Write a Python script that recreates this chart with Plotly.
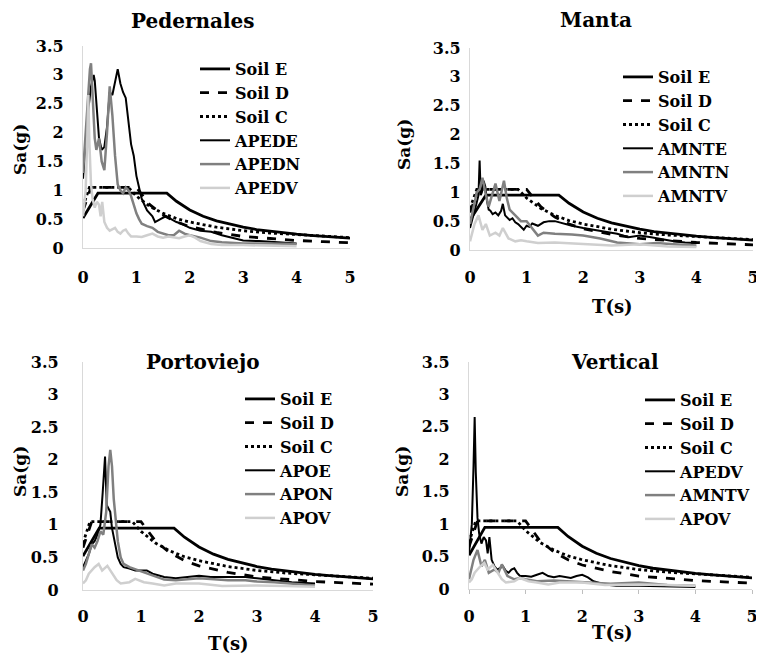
import plotly.graph_objects as go

# ---------------- data ----------------
# Design spectra (NEC)
T_soilE = [0, 0.28, 1.57, 1.75, 2.0, 2.25, 2.5, 2.75, 3.0, 3.25, 3.5, 3.75, 4.0, 4.25, 4.5, 4.75, 5.0]
Sa_soilE = [0.52, 0.95, 0.95, 0.81, 0.66, 0.55, 0.47, 0.41, 0.36, 0.32, 0.29, 0.26, 0.24, 0.22, 0.20, 0.18, 0.17]
T_soilD = [0, 0.15, 1.0, 1.1, 1.25, 1.5, 1.75, 2.0, 2.5, 3.0, 3.5, 4.0, 4.5, 5.0]
Sa_soilD = [0.65, 1.05, 1.05, 0.93, 0.75, 0.57, 0.45, 0.37, 0.27, 0.20, 0.16, 0.13, 0.11, 0.09]
T_soilC = [0, 0.12, 0.85, 1.0, 1.25, 1.5, 1.75, 2.0, 2.5, 3.0, 3.5, 4.0, 4.5, 5.0]
Sa_soilC = [0.72, 1.05, 1.05, 0.9, 0.72, 0.6, 0.51, 0.45, 0.36, 0.30, 0.26, 0.23, 0.20, 0.18]

# Pedernales records
T_APEDE = [0, 0.05, 0.1, 0.15, 0.2, 0.22, 0.27, 0.3, 0.35, 0.4, 0.45, 0.5, 0.55, 0.6, 0.65, 0.7, 0.75, 0.8,
           0.85, 0.9, 0.95, 1.0, 1.05, 1.1, 1.15, 1.2, 1.3, 1.35, 1.45, 1.55, 1.65, 1.75, 1.85, 2.0, 2.2, 2.4,
           2.6, 2.8, 3.0, 3.3, 3.6, 4.0]
Sa_APEDE = [1.2, 1.8, 2.4, 2.8, 3.0, 2.9, 2.2, 1.9, 1.7, 1.75, 2.1, 2.7, 2.65, 2.9, 3.1, 2.85, 2.7, 2.6,
            2.2, 1.8, 1.6, 1.25, 1.05, 0.85, 0.75, 0.65, 0.55, 0.45, 0.5, 0.55, 0.5, 0.45, 0.42, 0.35, 0.3, 0.28,
            0.22, 0.18, 0.13, 0.12, 0.1, 0.08]
T_APEDN = [0, 0.05, 0.1, 0.13, 0.15, 0.18, 0.22, 0.25, 0.3, 0.35, 0.4, 0.45, 0.5, 0.55, 0.6, 0.65, 0.7, 0.75,
           0.8, 0.85, 0.9, 0.95, 1.0, 1.05, 1.1, 1.2, 1.3, 1.4, 1.5, 1.6, 1.7, 1.8, 1.9, 2.0, 2.2, 2.4, 2.6,
           3.0, 3.5, 4.0]
Sa_APEDN = [1.3, 2.0, 2.7, 3.1, 3.2, 2.6, 1.9, 1.7, 1.9, 1.5, 1.35, 2.0, 2.8, 2.3, 1.6, 1.1, 1.0, 0.95,
            1.05, 1.0, 0.9, 0.75, 0.6, 0.5, 0.42, 0.38, 0.35, 0.28, 0.25, 0.22, 0.22, 0.3, 0.25, 0.22, 0.18, 0.12, 0.1,
            0.08, 0.08, 0.07]
T_APEDV = [0, 0.05, 0.08, 0.1, 0.12, 0.15, 0.18, 0.22, 0.26, 0.3, 0.33, 0.36, 0.4, 0.45, 0.5, 0.55, 0.6, 0.65,
           0.7, 0.75, 0.8, 0.85, 0.9, 1.0, 1.1, 1.2, 1.3, 1.4, 1.5, 1.6, 1.7, 1.8, 1.9, 2.0, 2.1, 2.2, 2.4, 2.6,
           3.0, 3.5, 4.0]
Sa_APEDV = [0.55, 1.0, 1.9, 2.65, 1.8, 1.1, 0.85, 0.7, 0.8, 0.75, 0.55, 0.8, 0.45, 0.35, 0.3, 0.32, 0.35, 0.28,
            0.25, 0.3, 0.32, 0.25, 0.2, 0.2, 0.19, 0.22, 0.25, 0.2, 0.18, 0.2, 0.18, 0.17, 0.2, 0.22, 0.18, 0.12, 0.07, 0.05,
            0.05, 0.04, 0.03]

# Manta records
T_AMNTE = [0, 0.05, 0.1, 0.15, 0.17, 0.19, 0.21, 0.24, 0.27, 0.3, 0.33, 0.36, 0.4, 0.45, 0.5, 0.55, 0.58, 0.62,
           0.66, 0.7, 0.75, 0.8, 0.85, 0.9, 0.95, 1.0, 1.05, 1.1, 1.2, 1.3, 1.4, 1.5, 1.6, 1.8, 2.0, 2.2, 2.4, 2.6,
           2.8, 3.0, 3.2, 3.4, 3.6, 3.8, 4.0]
Sa_AMNTE = [0.38, 0.55, 0.75, 0.95, 1.55, 0.95, 1.0, 1.2, 1.1, 0.85, 0.7, 0.68, 0.62, 0.65, 0.6, 0.68, 0.8, 0.6,
            0.55, 0.52, 0.55, 0.48, 0.45, 0.4, 0.35, 0.42, 0.4, 0.46, 0.42, 0.48, 0.5, 0.5, 0.47, 0.42, 0.38, 0.35, 0.32, 0.28,
            0.22, 0.25, 0.22, 0.18, 0.15, 0.13, 0.12]
T_AMNTN = [0, 0.05, 0.12, 0.17, 0.22, 0.27, 0.33, 0.39, 0.45, 0.52, 0.6, 0.65, 0.7, 0.8, 0.9, 1.0, 1.1, 1.2, 1.3,
           1.5, 1.8, 2.0, 2.3, 2.6, 3.0, 3.3, 3.6, 4.0]
Sa_AMNTN = [0.45, 0.7, 1.0, 1.05, 1.25, 1.0, 0.75, 0.95, 1.15, 0.85, 1.2, 0.9, 0.7, 0.6, 0.5, 0.5, 0.38, 0.25, 0.3,
            0.28, 0.27, 0.25, 0.2, 0.13, 0.1, 0.12, 0.1, 0.08]
T_AMNTV = [0, 0.04, 0.08, 0.15, 0.22, 0.28, 0.35, 0.45, 0.52, 0.58, 0.68, 0.8, 0.9, 1.0, 1.2, 1.5, 2.0, 2.5, 3.0,
           3.5, 4.0]
Sa_AMNTV = [0.15, 0.3, 0.45, 0.6, 0.35, 0.45, 0.25, 0.3, 0.25, 0.38, 0.2, 0.15, 0.17, 0.15, 0.12, 0.13, 0.1, 0.08, 0.1,
            0.06, 0.05]

# Portoviejo records
T_APOE = [0, 0.05, 0.1, 0.15, 0.2, 0.25, 0.3, 0.34, 0.38, 0.41, 0.44, 0.47, 0.5, 0.55, 0.6, 0.65, 0.7, 0.8, 0.9,
          1.0, 1.1, 1.2, 1.4, 1.6, 1.8, 2.0, 2.2, 2.5, 2.8, 3.0, 3.3, 3.6, 4.0]
Sa_APOE = [0.35, 0.45, 0.55, 0.7, 0.75, 0.85, 1.0, 1.5, 2.05, 1.3, 1.25, 1.2, 0.95, 0.7, 0.5, 0.4, 0.35, 0.33, 0.3,
           0.3, 0.3, 0.25, 0.2, 0.18, 0.2, 0.22, 0.2, 0.2, 0.2, 0.18, 0.15, 0.12, 0.1]
T_APON = [0, 0.05, 0.1, 0.15, 0.2, 0.25, 0.3, 0.35, 0.4, 0.44, 0.47, 0.5, 0.53, 0.57, 0.6, 0.65, 0.7, 0.8, 0.9,
          1.0, 1.1, 1.2, 1.4, 1.6, 1.8, 2.0, 2.2, 2.5, 2.8, 3.0, 3.3, 3.6, 4.0]
Sa_APON = [0.3, 0.4, 0.55, 0.7, 0.65, 0.75, 0.9, 0.85, 1.2, 1.9, 2.15, 1.9, 1.4, 1.0, 0.75, 0.5, 0.4, 0.35, 0.32,
           0.28, 0.25, 0.22, 0.16, 0.15, 0.17, 0.18, 0.17, 0.15, 0.15, 0.13, 0.12, 0.1, 0.07]
T_APOV = [0, 0.05, 0.1, 0.2, 0.27, 0.33, 0.42, 0.5, 0.58, 0.65, 0.8, 0.9, 1.05, 1.2, 1.4, 1.6, 2.0, 2.4, 3.0,
          3.5, 4.0]
Sa_APOV = [0.1, 0.15, 0.25, 0.35, 0.4, 0.3, 0.37, 0.25, 0.15, 0.1, 0.12, 0.17, 0.12, 0.1, 0.07, 0.1, 0.1, 0.06, 0.07,
           0.06, 0.05]

panel_titles = ["Pedernales", "Manta", "Portoviejo", "Vertical"]
x_ticks = [0, 1, 2, 3, 4, 5]
y_ticks = [0, 0.5, 1, 1.5, 2, 2.5, 3, 3.5]

# ---------------- styling ----------------
FONT = "DejaVu Serif, Liberation Serif, serif"
BLACK = "#000000"
GRAY = "#808080"
LGRAY = "#cfcfcf"

fig = go.Figure()

panels = [
    dict(xa="x", ya="y", leg="legend",
         recs=[("APEDE", T_APEDE, Sa_APEDE, BLACK, 2.0), ("APEDN", T_APEDN, Sa_APEDN, GRAY, 2.5),
               ("APEDV", T_APEDV, Sa_APEDV, LGRAY, 2.5)]),
    dict(xa="x2", ya="y2", leg="legend2",
         recs=[("AMNTE", T_AMNTE, Sa_AMNTE, BLACK, 2.0), ("AMNTN", T_AMNTN, Sa_AMNTN, GRAY, 2.5),
               ("AMNTV", T_AMNTV, Sa_AMNTV, LGRAY, 2.5)]),
    dict(xa="x3", ya="y3", leg="legend3",
         recs=[("APOE", T_APOE, Sa_APOE, BLACK, 2.0), ("APON", T_APON, Sa_APON, GRAY, 2.5),
               ("APOV", T_APOV, Sa_APOV, LGRAY, 2.5)]),
    dict(xa="x4", ya="y4", leg="legend4",
         recs=[("APEDV", T_APEDV, Sa_APEDV, BLACK, 2.0), ("AMNTV", T_AMNTV, Sa_AMNTV, GRAY, 2.5),
               ("APOV", T_APOV, Sa_APOV, LGRAY, 2.5)]),
]

soils = [("Soil E", T_soilE, Sa_soilE, "solid"), ("Soil D", T_soilD, Sa_soilD, "dash"),
         ("Soil C", T_soilC, Sa_soilC, "dot")]
for p in panels:
    for name, t, s, dash in soils:
        fig.add_trace(go.Scatter(x=t, y=s, name=name, mode="lines", xaxis=p["xa"], yaxis=p["ya"],
                                 legend=p["leg"], line=dict(color=BLACK, width=2.8, dash=dash)))
    for name, t, s, col, w in p["recs"]:
        fig.add_trace(go.Scatter(x=t, y=s, name=name, mode="lines", xaxis=p["xa"], yaxis=p["ya"],
                                 legend=p["leg"], line=dict(color=col, width=w)))

tickfont = dict(family=FONT, size=16, color="black", weight="bold")
axis_common = dict(showgrid=False, zeroline=False, showline=True, linecolor="#d9d9d9", linewidth=1.3,
                   tickfont=tickfont, fixedrange=True, automargin=False, ticklabeloverflow="allow")

# The page places the figure 8px in from the top-left corner (body margin).
OFF = 8
W, H = 756, 650
def px2x(v):
    return (v - OFF) / W
def px2y(v):
    return 1 - (v - OFF) / H

geo = {
    # panel: (x0, x1, ytop, ybottom) in page pixels
    "1": (83, 350, 46, 248),
    "2": (470, 753, 48, 250),
    "3": (83, 373, 362, 590),
    "4": (469, 752, 362, 589),
}
xstand = {"1": 15, "2": 13, "3": 12, "4": 9}
ystand = {"1": 15, "2": 5, "3": 20, "4": 15}

layout = dict(width=W, height=H, margin=dict(l=0, r=0, t=0, b=0, autoexpand=False), plot_bgcolor="white",
              paper_bgcolor="white", showlegend=True)
for k, (x0, x1, yt, yb) in geo.items():
    sx = "" if k == "1" else k
    layout["xaxis" + sx] = dict(axis_common, domain=[px2x(x0), px2x(x1)], range=[0, 5], tickvals=x_ticks,
                                anchor="y" + sx, ticklabelstandoff=xstand[k],
                                ticks="outside" if k == "4" else "", ticklen=4, tickcolor="#bfbfbf")
    layout["yaxis" + sx] = dict(axis_common, domain=[px2y(yb), px2y(yt)], range=[0, 3.5], tickvals=y_ticks,
                                anchor="x" + sx, ticklabelstandoff=ystand[k])

legfont = dict(family=FONT, size=16, color="black", weight="bold")
# (legend left, legend top) in page pixels
leg_pos = {"legend": (195, 52), "legend2": (618, 60), "legend3": (240, 382), "legend4": (640, 383)}
for lk, (lx, ly) in leg_pos.items():
    layout[lk] = dict(x=px2x(lx), y=px2y(ly), xanchor="left", yanchor="top", font=legfont,
                      bgcolor="rgba(0,0,0,0)", tracegroupgap=0, itemwidth=30)

fig.update_layout(**layout)

ann = []
title_pos = [(193, 21), (596, 20), (202, 362), (615, 362)]
for txt, (x, y) in zip(panel_titles, title_pos):
    ann.append(dict(text=txt, x=px2x(x), y=px2y(y), xref="paper", yref="paper", showarrow=False,
                    xanchor="center", yanchor="middle",
                    font=dict(family=FONT, size=20, color="black", weight="bold")))
ylab_pos = [(20, 150), (404, 145), (20, 472), (402, 472)]
for (x, y) in ylab_pos:
    ann.append(dict(text="Sa(g)", x=px2x(x), y=px2y(y), xref="paper", yref="paper", showarrow=False,
                    textangle=-90, xanchor="center", yanchor="middle",
                    font=dict(family=FONT, size=17, color="black", weight="bold")))
xlab_pos = [(612, 306), (228, 643), (612, 632)]
for (x, y) in xlab_pos:
    ann.append(dict(text="T(s)", x=px2x(x), y=px2y(y), xref="paper", yref="paper", showarrow=False,
                    xanchor="center", yanchor="middle",
                    font=dict(family=FONT, size=18, color="black", weight="bold")))
fig.update_layout(annotations=ann)

fig.write_html("out.html")
